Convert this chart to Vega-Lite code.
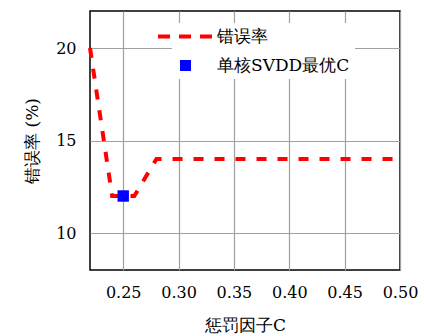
{
  "$schema": "https://vega.github.io/schema/vega-lite/v6.json",
  "width": 310,
  "height": 259,
  "autosize": {"type": "none"},
  "padding": {"left": 90, "top": 11, "right": 24, "bottom": 66},
  "background": "white",
  "config": {
    "font": "DejaVu Serif",
    "view": {"stroke": "black", "strokeWidth": 1.5},
    "axis": {
      "labelFont": "DejaVu Serif",
      "titleFont": "DejaVu Serif",
      "labelFontSize": 16,
      "titleFontSize": 17,
      "titleFontWeight": "normal",
      "labelColor": "black",
      "titleColor": "black",
      "labelFlush": false,
      "labelOverlap": false,
      "domain": false,
      "ticks": false,
      "gridColor": "#a0a0a0",
      "gridOpacity": 1,
      "gridWidth": 1.2
    }
  },
  "data": {
    "values": [
      {"c": 0.22, "err": 20, "series": "错误率"},
      {"c": 0.24, "err": 12, "series": "错误率"},
      {"c": 0.25, "err": 12, "series": "错误率"},
      {"c": 0.26, "err": 12, "series": "错误率"},
      {"c": 0.28, "err": 14, "series": "错误率"},
      {"c": 0.30, "err": 14, "series": "错误率"},
      {"c": 0.35, "err": 14, "series": "错误率"},
      {"c": 0.40, "err": 14, "series": "错误率"},
      {"c": 0.45, "err": 14, "series": "错误率"},
      {"c": 0.50, "err": 14, "series": "错误率"},
      {"c": 0.25, "err": 12, "series": "单核SVDD最优C"}
    ]
  },
  "encoding": {
    "x": {
      "field": "c", "type": "quantitative",
      "scale": {"domain": [0.22, 0.5], "nice": false, "zero": false},
      "axis": {"values": [0.25, 0.3, 0.35, 0.4, 0.45, 0.5], "format": ".2f", "title": "惩罚因子C", "labelPadding": 14, "titlePadding": 17}
    },
    "y": {
      "field": "err", "type": "quantitative",
      "scale": {"domain": [8, 22], "nice": false, "zero": false},
      "axis": {"values": [10, 15, 20], "title": "错误率 (%)", "labelPadding": 14, "titlePadding": 14}
    },
    "color": {
      "field": "series", "type": "nominal",
      "scale": {"domain": ["错误率", "单核SVDD最优C"], "range": ["#ff0000", "#0000ff"]},
      "legend": {
        "title": null,
        "orient": "none",
        "legendX": 82,
        "legendY": 12,
        "fillColor": "white",
        "padding": 5,
        "labelFont": "DejaVu Serif",
        "labelFontSize": 17,
        "labelColor": "black",
        "labelOffset": 23,
        "rowPadding": 11,
        "symbolSize": 3025,
        "symbolStrokeWidth": 4,
        "encode": {
          "symbols": {
            "update": {
              "shape": {"signal": "datum.label == '错误率' ? 'stroke' : 'square'"},
              "size": {"signal": "datum.label == '错误率' ? 3025 : 121"},
              "strokeDash": {"signal": "datum.label == '错误率' ? [12, 9] : [1, 0]"},
              "strokeWidth": {"signal": "datum.label == '错误率' ? 4 : 0"},
              "fill": {"signal": "datum.label == '错误率' ? 'transparent' : '#0000ff'"},
              "stroke": {"signal": "datum.label == '错误率' ? '#ff0000' : '#0000ff'"},
              "opacity": {"value": 1}
            }
          }
        }
      }
    }
  },
  "layer": [
    {
      "transform": [{"filter": "datum.series == '错误率'"}],
      "mark": {"type": "line", "strokeWidth": 4, "strokeDash": [10, 11]}
    },
    {
      "transform": [{"filter": "datum.series != '错误率'"}],
      "mark": {"type": "point", "shape": "square", "filled": true, "size": 130, "opacity": 1}
    }
  ]
}
